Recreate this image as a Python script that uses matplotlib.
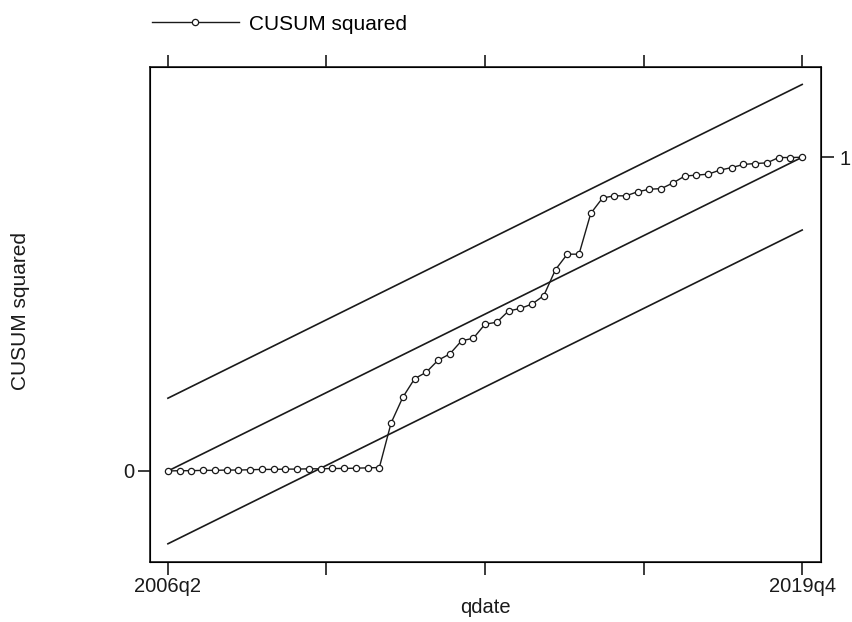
import matplotlib.pyplot as plt
import numpy as np

plt.rcParams["font.family"] = ["Liberation Sans", "DejaVu Sans"]

# quarterly CUSUM squared statistic, 2006q2 .. 2019q4 (55 quarters)
cusum_sq = [
    0.000, 0.001, 0.001, 0.002, 0.002, 0.003, 0.003, 0.004, 0.005, 0.005,
    0.006, 0.006, 0.007, 0.007, 0.008, 0.008, 0.009, 0.010, 0.011,
    0.153, 0.235, 0.294, 0.315, 0.353, 0.373, 0.415, 0.423, 0.468, 0.474,
    0.510, 0.518, 0.532, 0.559, 0.642, 0.691, 0.691, 0.821, 0.870, 0.877,
    0.877, 0.890, 0.898, 0.900, 0.918, 0.940, 0.943, 0.946, 0.959, 0.967,
    0.977, 0.980, 0.982, 0.999, 0.999, 1.000,
]
band = 0.232
tick_labels = ["2006q2", "", "", "", "2019q4"]

n = len(cusum_sq)
t = np.arange(n)
expected = t / (n - 1)

fig = plt.figure(figsize=(8.52, 6.22), dpi=100)
ax = fig.add_axes([0.176, 0.0965, 0.7876, 0.7955])

ink = "#1a1a1a"
ax.plot(t, expected + band, color=ink, lw=1.2)
ax.plot(t, expected, color=ink, lw=1.2)
ax.plot(t, expected - band, color=ink, lw=1.2)
ax.plot(t, cusum_sq, color=ink, lw=1.0, marker="o", ms=4.5,
        mfc="white", mec=ink, mew=0.9, label="CUSUM squared")

ax.set_xlim(-1.53, 55.6)
ax.set_ylim(-0.29, 1.287)

xt = np.linspace(0, n - 1, 5)
ax.set_xticks(xt)
ax.set_xticklabels(tick_labels)
ax.set_yticks([0])
ax.set_yticklabels(["0"])
ax.tick_params(axis="both", direction="out", length=9, width=1.2,
               color=ink, labelsize=14.5, labelcolor=ink, pad=2)
ax.tick_params(axis="x", top=True, labeltop=False)
for s in ax.spines.values():
    s.set_color(ink)
    s.set_linewidth(1.2)

ax2 = ax.twinx()
ax2.set_ylim(ax.get_ylim())
ax2.set_yticks([1])
ax2.set_yticklabels(["1"])
ax2.tick_params(axis="y", direction="out", length=9, width=1.2,
                color=ink, labelsize=14.5, labelcolor=ink, pad=4)

ax.set_xlabel("qdate", fontsize=14.5, color=ink, labelpad=1)
fig.text(0.024, 0.5, "CUSUM squared", rotation=90, fontsize=15,
         color=ink, ha="center", va="center")

ax.legend(loc="lower left", bbox_to_anchor=(0.178, 0.946),
          bbox_transform=fig.transFigure, frameon=False, fontsize=15,
          handlelength=4.2, handletextpad=0.45, borderaxespad=0,
          borderpad=0)

fig.savefig("out.png", dpi=100)
